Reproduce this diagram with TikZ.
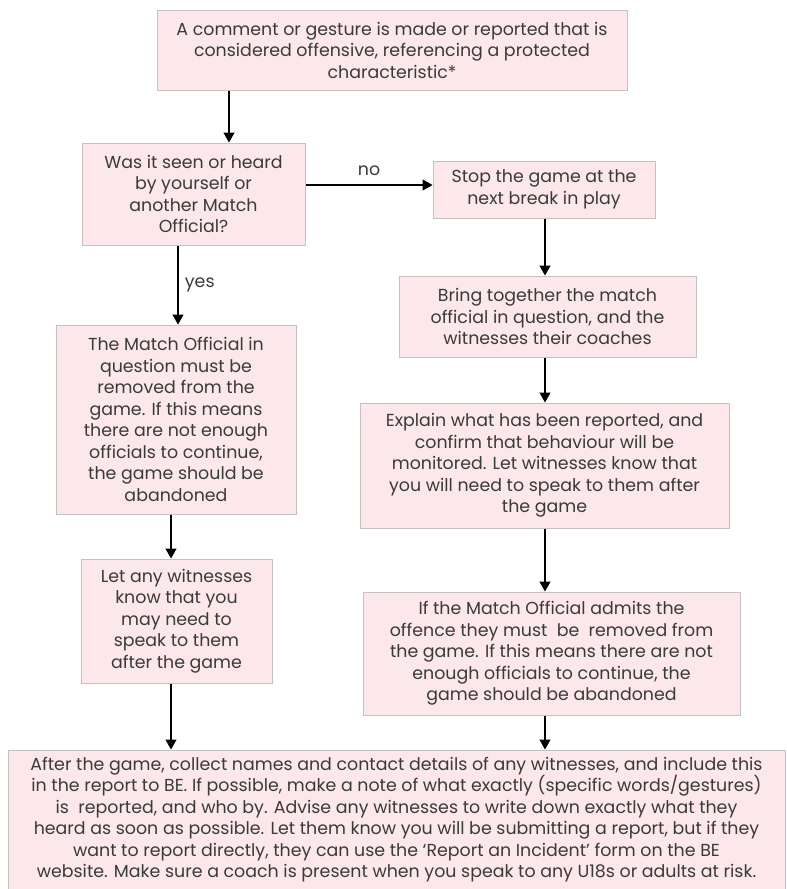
\documentclass[tikz,border=0pt]{standalone}
\usepackage{fontspec}
\setmainfont{Poppins}
\usetikzlibrary{arrows.meta}
\definecolor{boxfill}{HTML}{FCE8EA}
\definecolor{boxline}{HTML}{C8C0C0}
\definecolor{txt}{HTML}{3A3A3A}
\tikzset{
  fbox/.style={draw=boxline, line width=1pt, fill=boxfill, text=txt, align=center,
    inner sep=0pt, font=\fontsize{17.4}{21.5}\selectfont},
  arr/.style={draw=black, line width=1.2pt, -{Triangle[length=10pt,width=11pt]}},
  lbl/.style={text=txt, font=\fontsize{17.4}{21.5}\selectfont}
}
\begin{document}
\begin{tikzpicture}[x=1pt,y=-1pt]
\useasboundingbox (0,0) rectangle (787,889);
\node[fbox, minimum width=470pt, minimum height=80pt] (top) at (392,50)
  {A comment or gesture is made or reported that is\\considered offensive, referencing a protected\\characteristic*};
\node[fbox, minimum width=223pt, minimum height=102pt] (q) at (193.5,194)
  {Was it seen or heard\\by yourself or\\another Match\\Official?};
\node[fbox, minimum width=222pt, minimum height=57pt] (stop) at (544,189.5)
  {Stop the game at the\\next break in play};
\node[fbox, minimum width=297pt, minimum height=81pt] (bring) at (547.5,316.5)
  {Bring together the match\\official in question, and the\\witnesses their coaches};
\node[fbox, minimum width=369pt, minimum height=125pt] (explain) at (544.5,465.5)
  {Explain what has been reported, and\\confirm that behaviour will be\\monitored. Let witnesses know that\\you will need to speak to them after\\the game};
\node[fbox, minimum width=240pt, minimum height=189pt] (remove) at (176,419.5)
  {The Match Official in\\question must be\\removed from the\\game. If this means\\there are not enough\\officials to continue,\\the game should be\\abandoned};
\node[fbox, minimum width=191pt, minimum height=124pt] (let) at (176.5,621)
  {Let any witnesses\\know that you\\may need to\\speak to them\\after the game};
\node[fbox, minimum width=377pt, minimum height=123pt] (admit) at (551.5,653.5)
  {If the Match Official admits the\\offence they must\ \ be\ \ removed from\\the game. If this means there are not\\enough officials to continue, the\\game should be abandoned};
\node[fbox, minimum width=777pt, minimum height=139pt] (final) at (396.5,819.5)
  {After the game, collect names and contact details of any witnesses, and include this\\in the report to BE. If possible, make a note of what exactly (specific words/gestures)\\is\ \ reported, and who by. Advise any witnesses to write down exactly what they\\heard as soon as possible. Let them know you will be submitting a report, but if they\\want to report directly, they can use the ‘Report an Incident’ form on the BE\\website. Make sure a coach is present when you speak to any U18s or adults at risk.};
\coordinate (xa) at (229,0);
\coordinate (xb) at (178,0);
\coordinate (xc) at (171,0);
\coordinate (xr) at (545,0);
\coordinate (yn) at (0,185);
\draw[arr] (top.south -| xa) -- (q.north -| xa);
\draw[arr] (q.east |- yn) -- (stop.west |- yn) node[lbl, midway, above=5pt] {no};
\draw[arr] (q.south -| xb) -- (remove.north -| xb) node[lbl, midway, right=3pt] {yes};
\draw[arr] (stop.south -| xr) -- (bring.north -| xr);
\draw[arr] (bring.south -| xr) -- (explain.north -| xr);
\draw[arr] (explain.south -| xr) -- (admit.north -| xr);
\draw[arr] (remove.south -| xc) -- (let.north -| xc);
\draw[arr] (let.south -| xc) -- (final.north -| xc);
\draw[arr] (admit.south -| xr) -- (final.north -| xr);
\end{tikzpicture}
\end{document}
